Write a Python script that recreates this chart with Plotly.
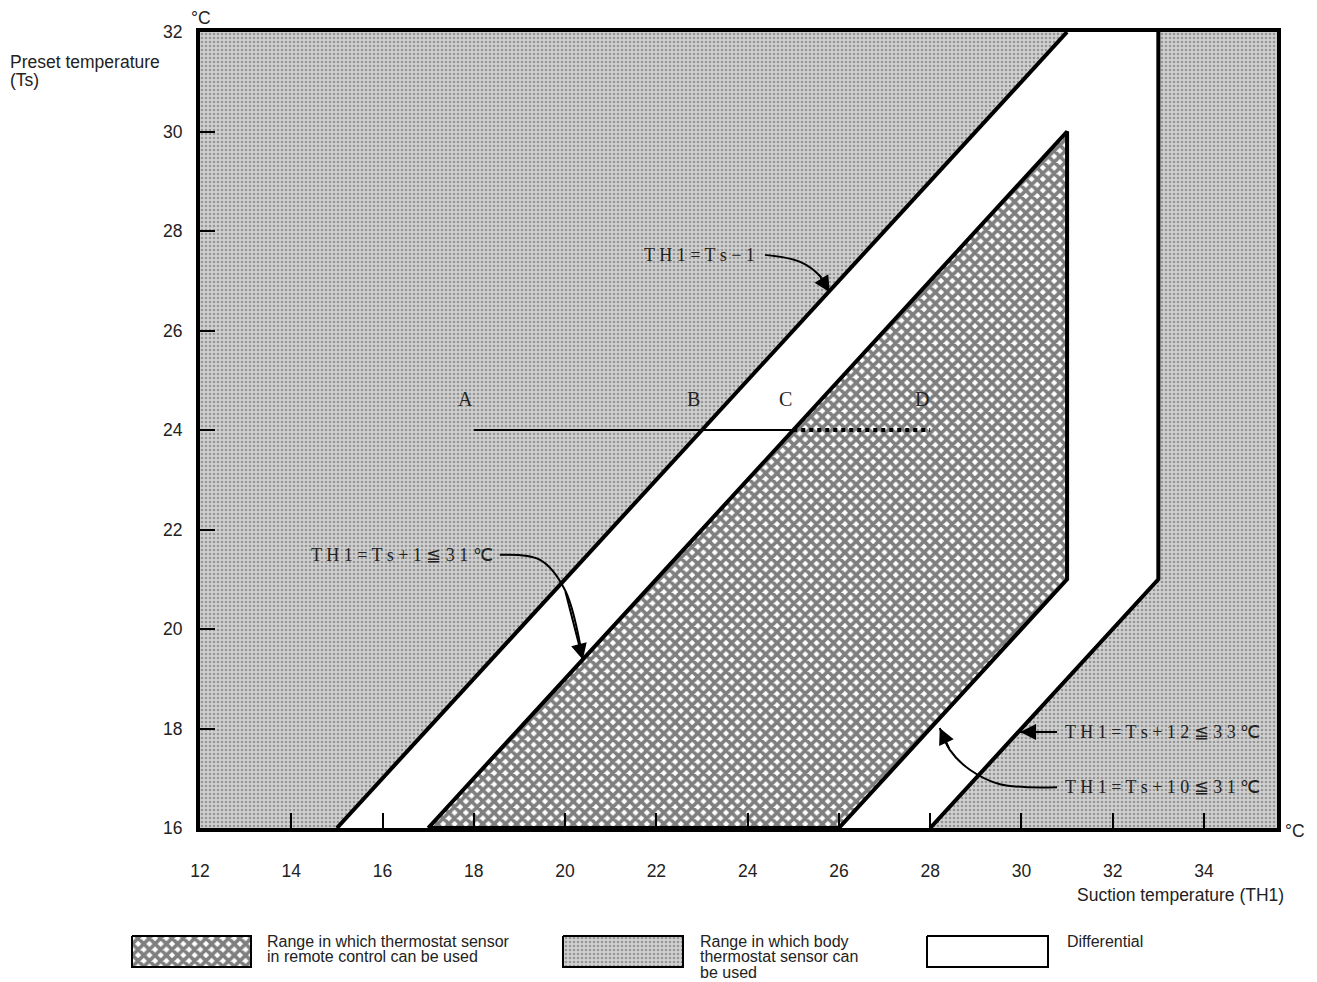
import plotly.graph_objects as go

# axes
x_min, x_max = 12, 35.6
y_min, y_max = 16, 32
x_ticks = [12, 14, 16, 18, 20, 22, 24, 26, 28, 30, 32, 34]
y_ticks = [16, 18, 20, 22, 24, 26, 28, 30, 32]

# boundary lines, suction temperature (TH1) vs preset temperature (Ts)
upper_th1 = [15, 31]            # TH1 = Ts - 1
upper_ts = [16, 32]
remote_th1 = [17, 31, 31, 26, 17]   # remote control sensor range
remote_ts = [16, 30, 21, 16, 16]
right_th1 = [28, 33, 33]        # TH1 = Ts + 12 <= 33
right_ts = [16, 21, 32]

# example line A-D at Ts = 24
ad_ts = 24
ad_names = ['A', 'B', 'C', 'D']
ad_th1 = [18, 23, 25, 28]

# formula labels and their arrow paths
labels = [' '.join('TH1=Ts−1'), ' '.join('TH1=Ts+1≦31℃'),
          ' '.join('TH1=Ts+12≦33℃'), ' '.join('TH1=Ts+10≦31℃')]
label_x = [24.2, 18.46, 35.27, 35.27]
label_y = [27.52, 21.49, 17.93, 16.82]
arrow_x = [[24.38, 25.15, 25.58, 25.80],
           [18.57, 19.45, 20.00, 20.39],
           [30.78, 29.97],
           [30.78, 29.53, 28.87, 28.43, 28.21]]
arrow_y = [[27.52, 27.38, 27.10, 26.77],
           [21.49, 21.39, 20.78, 19.38],
           [17.93, 17.93],
           [16.82, 16.88, 17.17, 17.57, 18.01]]

GRAY = dict(shape='.', bgcolor='#d0d0d0', fgcolor='#5a5a5a', size=4, solidity=0.35)
HATCH = dict(shape='x', bgcolor='white', fgcolor='black', size=8, solidity=0.7)
SANS = dict(family='Liberation Sans', size=17.5, color='#222')
LEG_FONT = dict(family='Liberation Sans', size=16, color='#222')

fig = go.Figure()

# body sensor range (everything that is not differential or remote)
fig.add_trace(go.Scatter(
    x=[x_min, x_max, x_max, x_min, x_min],
    y=[y_min, y_min, y_max, y_max, y_min],
    fill='toself', fillcolor='#d0d0d0', fillpattern=GRAY,
    mode='none', hoverinfo='skip'))

# differential band
fig.add_trace(go.Scatter(
    x=upper_th1 + right_th1[::-1],
    y=upper_ts + right_ts[::-1],
    fill='toself', fillcolor='white',
    mode='none', hoverinfo='skip'))

# remote control range
fig.add_trace(go.Scatter(
    x=remote_th1, y=remote_ts,
    fill='toself', fillcolor='white', fillpattern=HATCH,
    mode='lines', line=dict(color='black', width=4), hoverinfo='skip'))

fig.add_trace(go.Scatter(x=upper_th1, y=upper_ts, mode='lines',
                         line=dict(color='black', width=4), hoverinfo='skip'))
fig.add_trace(go.Scatter(x=right_th1, y=right_ts, mode='lines',
                         line=dict(color='black', width=4), hoverinfo='skip'))

# line A-D
fig.add_trace(go.Scatter(x=ad_th1[:3], y=[ad_ts] * 3, mode='lines',
                         line=dict(color='black', width=2), hoverinfo='skip'))
fig.add_trace(go.Scatter(x=ad_th1[2:], y=[ad_ts] * 2, mode='lines',
                         line=dict(color='black', width=4, dash='dot'), hoverinfo='skip'))

for n, x in zip(ad_names, ad_th1):
    fig.add_annotation(x=x, y=ad_ts, text=n, showarrow=False, xshift=-8, yshift=31,
                       font=dict(family='Liberation Serif', size=20, color='#222'))

# formula labels with arrows
for i in range(len(labels)):
    fig.add_annotation(x=label_x[i], y=label_y[i], text=labels[i], showarrow=False,
                       xanchor='right',
                       font=dict(family='Liberation Serif', size=18, color='#222'))
    fig.add_trace(go.Scatter(x=arrow_x[i], y=arrow_y[i], mode='lines',
                             line=dict(color='black', width=2, shape='spline'),
                             hoverinfo='skip'))
    fig.add_annotation(x=arrow_x[i][-1], y=arrow_y[i][-1],
                       ax=arrow_x[i][-2], ay=arrow_y[i][-2],
                       xref='x', yref='y', axref='x', ayref='y', text='',
                       showarrow=True, arrowhead=2, arrowsize=1.6, arrowwidth=2,
                       arrowcolor='black', standoff=0)

# page is drawn with an 8px body margin, so lay out in window pixels minus that
W, H = 1317, 982
OFF = 8
FW, FH = W - OFF, H - OFF


def px(x):
    return (x - OFF) / FW


def py(y):
    return 1 - (y - OFF) / FH


# legend boxes on an overlay axis (window pixel units)
leg_x0 = [132, 563, 927]
leg_x1 = [251, 683, 1048]
leg_fill = [HATCH, GRAY, None]
for x0, x1, pat in zip(leg_x0, leg_x1, leg_fill):
    tr = go.Scatter(x=[x0, x1, x1, x0, x0], y=[936, 936, 967, 967, 936],
                    xaxis='x2', yaxis='y2', fill='toself', fillcolor='white',
                    mode='lines', line=dict(color='black', width=2), hoverinfo='skip')
    if pat is not None:
        tr.fillpattern = pat
    fig.add_trace(tr)

leg_text = [['Range in which thermostat sensor', 'in remote control can be used'],
            ['Range in which body', 'thermostat sensor can', 'be used'],
            ['Differential']]
leg_text_x = [265, 698, 1065]
for tx, lines in zip(leg_text_x, leg_text):
    for j, t in enumerate(lines):
        fig.add_annotation(x=tx, y=941 + 15.5 * j, xref='x2', yref='y2', text=t,
                           showarrow=False, xanchor='left', yanchor='middle', font=LEG_FONT)

# axis titles
titles = [('Preset temperature', 8, 62, 'left'), ('(Ts)', 8, 80, 'left'),
          ('°C', 201, 18, 'center'), ('°C', 1295, 831, 'center'),
          ('Suction temperature (TH1)', 1286, 895, 'right')]
for t, tx, ty, anc in titles:
    fig.add_annotation(x=px(tx), y=py(ty), xref='paper', yref='paper',
                       text=t, showarrow=False, xanchor=anc, yanchor='middle', font=SANS)

axis_common = dict(showline=True, mirror=True, linecolor='black', linewidth=4,
                   showgrid=False, zeroline=False, ticks='inside', ticklen=15,
                   tickwidth=2, tickcolor='black', automargin=False, tickfont=SANS)

fig.update_layout(
    width=FW, height=FH,
    margin=dict(l=0, r=0, t=0, b=0, pad=0, autoexpand=False),
    plot_bgcolor='white', paper_bgcolor='white',
    showlegend=False,
    xaxis=dict(axis_common, range=[x_min, x_max], tickvals=x_ticks,
               domain=[px(200), px(1277)], ticklabelstandoff=24),
    yaxis=dict(axis_common, range=[y_min, y_max], tickvals=y_ticks,
               domain=[py(828), py(32)], ticklabelstandoff=10),
    xaxis2=dict(range=[OFF, W], domain=[0, 1], visible=False, anchor='y2',
                automargin=False),
    yaxis2=dict(range=[H, 876], domain=[0, py(876)], visible=False,
                anchor='x2', automargin=False),
)

fig.write_html("out.html")
